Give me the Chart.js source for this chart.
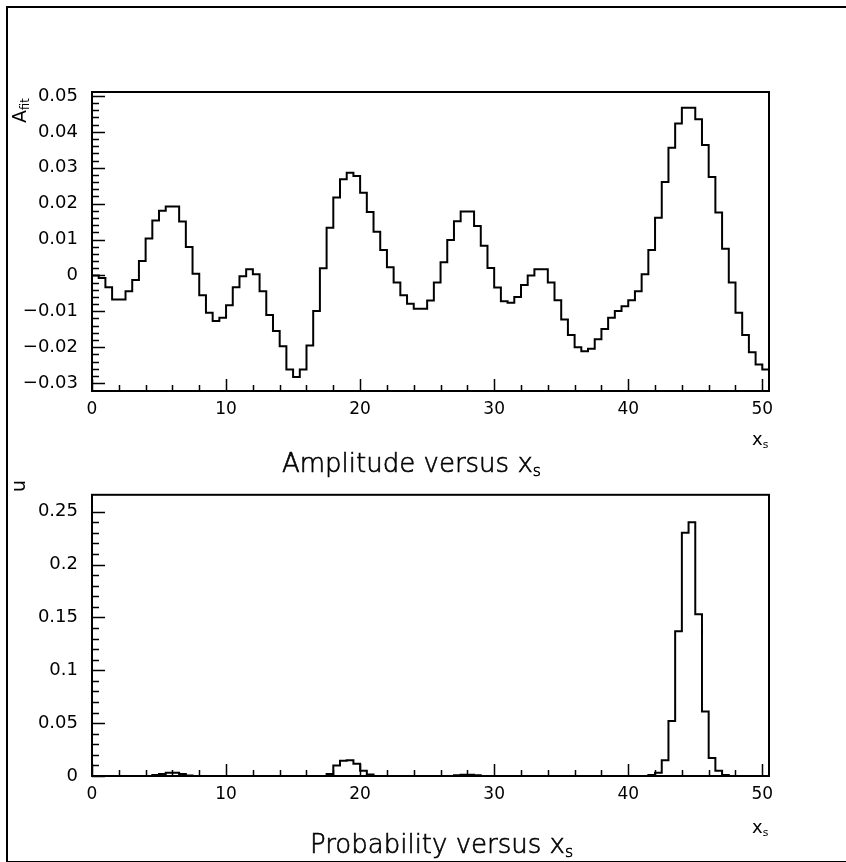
<!DOCTYPE html>
<html>
<head>
<meta charset="utf-8">
<script src="https://cdn.jsdelivr.net/npm/chart.js@4"></script>
<style>
  html, body { margin: 0; padding: 0; background: #fff; }
  body { width: 846px; height: 862px; position: relative; overflow: hidden; font-family: "DejaVu Sans", sans-serif; color: #000; }
  canvas { position: absolute; left: 0; }
  #frame { position: absolute; left: 6px; top: 6px; width: 850px; height: 853px; border-top: 2px solid #000; border-left: 2px solid #000; border-bottom: 2px solid #000; }
  .title { position: absolute; font-size: 26px; font-weight: 200; -webkit-text-stroke: 0.6px #000; white-space: nowrap; line-height: 30px; }
  .title sub, .xlab sub, .ylab sub { font-size: 60%; vertical-align: -0.25em; }
  .xlab { position: absolute; font-size: 18px; white-space: nowrap; }
  .ylab { position: absolute; font-size: 19px; white-space: nowrap; transform-origin: left top; transform: rotate(-90deg); }
</style>
</head>
<body>
<div id="frame"></div>
<canvas id="ampChart" width="846" height="430" style="top:0"></canvas>
<canvas id="probChart" width="846" height="360" style="top:470px"></canvas>

<div class="ylab" style="left:8px; top:123px">A<sub>fit</sub></div>
<div class="xlab" style="left:752px; top:428px">x<sub>s</sub></div>
<div class="title" style="left:282px; top:448px">Amplitude versus x<sub>s</sub></div>

<div class="ylab" style="left:7px; top:492px">u</div>
<div class="xlab" style="left:752px; top:816px">x<sub>s</sub></div>
<div class="title" style="left:310px; top:829px">Probability versus x<sub>s</sub></div>

<script>
// histogram binning (101 bins of 0.5 from 0 to 50.5)
const binWidth = 0.5;
const xMin = 0, xMax = 50.5;
const xMajor = [0, 10, 20, 30, 40, 50];
const xMinorStep = 2;

// fitted amplitude per bin
const amplitude = [
   0.0000, -0.0007, -0.0033, -0.0067, -0.0067, -0.0044, -0.0013,  0.0040,  0.0103,  0.0153,
   0.0180,  0.0192,  0.0192,  0.0150,  0.0079,  0.0005, -0.0055, -0.0104, -0.0127, -0.0118,
  -0.0083, -0.0033, -0.0002,  0.0017,  0.0003, -0.0044, -0.0110, -0.0155, -0.0197, -0.0262,
  -0.0283, -0.0262, -0.0195, -0.0099,  0.0020,  0.0133,  0.0217,  0.0268,  0.0286,  0.0277,
   0.0230,  0.0177,  0.0122,  0.0071,  0.0023, -0.0020, -0.0055, -0.0079, -0.0093, -0.0093,
  -0.0070, -0.0020,  0.0037,  0.0099,  0.0151,  0.0178,  0.0178,  0.0138,  0.0083,  0.0021,
  -0.0034, -0.0072, -0.0076, -0.0060, -0.0027,  0.0000,  0.0017,  0.0017, -0.0020, -0.0069,
  -0.0123, -0.0166, -0.0200, -0.0211, -0.0204, -0.0178, -0.0149, -0.0118, -0.0099, -0.0086,
  -0.0069, -0.0044,  0.0003,  0.0071,  0.0161,  0.0260,  0.0356,  0.0423,  0.0467,  0.0467,
   0.0435,  0.0363,  0.0274,  0.0175,  0.0074, -0.0020, -0.0104, -0.0166, -0.0214, -0.0248,
  -0.0262
];
const ampRange = [-0.0322, 0.0511];
const ampTicks = [-0.03, -0.02, -0.01, 0, 0.01, 0.02, 0.03, 0.04, 0.05];
const ampTickLabels = ['\u22120.03', '\u22120.02', '\u22120.01', '0', '0.01', '0.02', '0.03', '0.04', '0.05'];
const ampMinorStep = 0.002;

// probability per bin
const probability = [
  0, 0, 0, 0, 0, 0, 0, 0, 0, 0.001,
  0.002, 0.003, 0.003, 0.002, 0.0005, 0, 0, 0, 0, 0,
  0, 0, 0, 0, 0, 0, 0, 0, 0, 0,
  0, 0, 0, 0, 0, 0.002, 0.010, 0.0145, 0.0148, 0.0115,
  0.005, 0.0015, 0, 0, 0, 0, 0, 0, 0, 0,
  0, 0, 0, 0, 0.0008, 0.0012, 0.0012, 0.0006, 0, 0,
  0, 0, 0, 0, 0, 0, 0, 0, 0, 0,
  0, 0, 0, 0, 0, 0, 0, 0, 0, 0,
  0, 0, 0, 0.001, 0.003, 0.015, 0.052, 0.137, 0.230, 0.240,
  0.153, 0.061, 0.017, 0.005, 0.001, 0, 0, 0, 0, 0,
  0
];
const probRange = [0, 0.266];
const probTicks = [0, 0.05, 0.1, 0.15, 0.2, 0.25];
const probTickLabels = ['0', '0.05', '0.1', '0.15', '0.2', '0.25'];
const probMinorStep = 0.01;

// bins -> step points (left edges + closing edge)
function histPoints(values) {
  const pts = values.map((v, i) => ({ x: i * binWidth, y: v }));
  pts.push({ x: values.length * binWidth, y: values[values.length - 1] });
  return pts;
}

function steps(lo, hi, step) {
  const out = [];
  for (let v = lo; v <= hi + 1e-9; v += step) out.push(Math.round(v / step) * step);
  return out;
}

// frame + inward tick marks, HBOOK style
const hbookFrame = {
  id: 'hbookFrame',
  afterDatasetsDraw(chart, args, opts) {
    const { ctx, chartArea: a, scales: { x, y } } = chart;
    ctx.save();
    ctx.strokeStyle = '#000';
    ctx.lineWidth = 2;
    ctx.strokeRect(a.left, a.top, a.right - a.left, a.bottom - a.top);
    ctx.lineWidth = 1.5;
    ctx.beginPath();
    steps(xMin, 50, xMinorStep).forEach(v => {
      const px = Math.round(x.getPixelForValue(v)) + 0.5;
      const len = xMajor.includes(v) ? 12 : 6;
      ctx.moveTo(px, a.bottom);
      ctx.lineTo(px, a.bottom - len);
    });
    steps(opts.lo, opts.hi, opts.minor).forEach(v => {
      const py = Math.round(y.getPixelForValue(v)) + 0.5;
      const major = opts.major.some(m => Math.abs(m - v) < 1e-9);
      ctx.moveTo(a.left, py);
      ctx.lineTo(a.left + (major ? 13 : 7), py);
    });
    ctx.stroke();
    ctx.restore();
  }
};

function makeChart(id, values, range, ticks, tickLabels, minor, pad, xAxisH) {
  return new Chart(document.getElementById(id), {
    type: 'line',
    data: {
      datasets: [{
        data: histPoints(values),
        stepped: true,
        borderColor: '#000',
        borderWidth: 2,
        pointRadius: 0,
        fill: false
      }]
    },
    options: {
      responsive: false,
      animation: false,
      events: [],
      layout: { padding: { left: 0, right: 77, top: pad, bottom: 0 } },
      plugins: {
        legend: { display: false },
        tooltip: { enabled: false },
        hbookFrame: { lo: ticks[0], hi: ticks[ticks.length - 1], minor: minor, major: ticks }
      },
      scales: {
        x: {
          type: 'linear',
          min: xMin,
          max: xMax,
          grid: { display: false, drawTicks: false },
          border: { display: false },
          afterBuildTicks: s => { s.ticks = xMajor.map(v => ({ value: v })); },
          afterFit: s => { s.height = xAxisH; },
          ticks: {
            padding: 8,
            maxRotation: 0,
            color: '#000',
            font: { family: 'DejaVu Sans', size: 17 },
            callback: v => String(v)
          }
        },
        y: {
          type: 'linear',
          min: range[0],
          max: range[1],
          grid: { display: false, drawTicks: false },
          border: { display: false },
          afterBuildTicks: s => { s.ticks = ticks.map(v => ({ value: v })); },
          afterFit: s => { s.width = 92; },
          ticks: {
            padding: 14,
            color: '#000',
            font: { family: 'DejaVu Sans', size: 18 },
            callback: (v) => tickLabels[ticks.findIndex(t => Math.abs(t - v) < 1e-9)]
          }
        }
      }
    },
    plugins: [hbookFrame]
  });
}

makeChart('ampChart', amplitude, ampRange, ampTicks, ampTickLabels, ampMinorStep, 92, 39);
makeChart('probChart', probability, probRange, probTicks, probTickLabels, probMinorStep, 7, 54);
</script>
</body>
</html>
